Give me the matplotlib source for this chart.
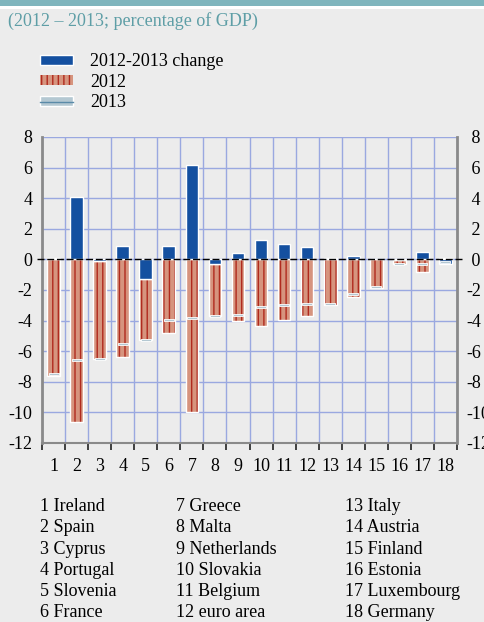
import numpy as np
import matplotlib.pyplot as plt
from matplotlib.patches import Patch, Rectangle
from matplotlib.lines import Line2D
from matplotlib.path import Path

plt.rcParams['font.family'] = ['Liberation Serif', 'DejaVu Serif']
plt.rcParams['hatch.linewidth'] = 1.0
plt.rcParams['axes.unicode_minus'] = False

countries = ['Ireland', 'Spain', 'Cyprus', 'Portugal', 'Slovenia', 'France',
             'Greece', 'Malta', 'Netherlands', 'Slovakia', 'Belgium', 'euro area',
             'Italy', 'Austria', 'Finland', 'Estonia', 'Luxembourg', 'Germany']
change = [0.1, 4.05, -0.1, 0.9, -1.3, 0.85, 6.15, -0.3, 0.4, 1.25, 1.0, 0.8,
          0.1, 0.2, 0.05, -0.05, 0.5, -0.3]
y2012 = [-7.6, -10.6, -6.4, -6.4, -4.0, -4.8, -10.0, -3.4, -4.05, -4.35, -3.95, -3.7,
         -3.0, -2.45, -1.85, -0.25, -0.8, 0.1]
y2013 = [-7.5, -6.55, -6.5, -5.5, -5.3, -3.95, -3.85, -3.7, -3.65, -3.1, -2.95, -2.9,
         -2.9, -2.25, -1.8, -0.3, -0.3, -0.2]
yticks = list(range(-12, 9, 2))

BG = '#ececec'
BLUE = '#1450a0'
RED = '#d6947e'
HATCH = '#b02a1e'
LIGHT = '#b4c8d2'
GRID = '#9aa8e0'
TEAL = '#5e9ea6'
FS = 13

x = np.arange(1, len(countries) + 1)
# negative changes stack below zero, 2012 stacks under them
base = np.minimum(np.array(change), 0)
base = np.where(np.array(y2012) < 0, base, 0)

fig = plt.figure(figsize=(4.85, 6.22), dpi=100, facecolor=BG)
fig.patches.append(Rectangle((0, 0.99), 1, 0.01, transform=fig.transFigure,
                             facecolor='#7fb5bd', edgecolor='none'))
fig.patches.append(Rectangle((0, 0.986), 1, 0.004, transform=fig.transFigure,
                             facecolor='white', edgecolor='none'))
fig.text(0.016, 0.966, '(2012 \u2013 2013; percentage of GDP)', color=TEAL,
         fontsize=FS, va='center')

ax = fig.add_axes([0.0866, 0.2878, 0.8557, 0.492])
ax.set_facecolor(BG)
w = 0.55
ax.bar(x, y2012, w, bottom=base, color=RED, edgecolor=HATCH, linewidth=0,
       hatch='|||', zorder=2)
ax.bar(x, y2012, w, bottom=base, fill=False, edgecolor='white', linewidth=1.0, zorder=2)
ax.bar(x, change, w, color=BLUE, edgecolor='white', linewidth=1.0, zorder=3)
box = Path([(-1, -0.28), (1, -0.28), (1, 0.28), (-1, 0.28), (-1, -0.28)],
           [Path.MOVETO, Path.LINETO, Path.LINETO, Path.LINETO, Path.CLOSEPOLY])
ax.plot(x, y2013, linestyle='none', marker=box, markersize=6.5,
        markerfacecolor=LIGHT, markeredgecolor='white', markeredgewidth=0.6, zorder=4)
ax.axhline(0, xmin=-0.012, xmax=1.012, color='black', linewidth=1.0,
           dashes=(5, 2), zorder=3.5, clip_on=False)

ax.set_xlim(0.5, 18.5)
ax.set_ylim(-12, 8)
ax.set_yticks(yticks)
ax.set_xticks(np.arange(0.5, 19, 1))
ax.set_xticklabels([])
ax.set_xticks(x, minor=True)
ax.set_xticklabels([str(i) for i in x], minor=True)
ax.grid(True, color=GRID, linewidth=1.0, zorder=0)
ax.set_axisbelow(True)
ax.tick_params(axis='x', which='major', direction='out', length=5, width=1.2,
               color='#222222')
ax.tick_params(axis='x', which='minor', length=0, pad=11, labelsize=FS)
ax.tick_params(axis='y', length=0, labelsize=FS, pad=7)
for s in ['left', 'right']:
    ax.spines[s].set_color('#8a8a8a')
    ax.spines[s].set_linewidth(2)
ax.spines['bottom'].set_color('#8a8a8a')
ax.spines['bottom'].set_linewidth(1.5)
ax.spines['top'].set_visible(False)

# right-hand scale, positives padded like the original
ax2 = ax.twinx()
ax2.set_ylim(ax.get_ylim())
ax2.set_yticks(yticks)
ax2.set_yticklabels([str(t) if t < 0 else ' ' + str(t) for t in yticks])
ax2.tick_params(axis='y', length=0, labelsize=FS, pad=7)
for s in ax2.spines.values():
    s.set_visible(False)

h_change = Patch(facecolor=BLUE, edgecolor='white')
h_2012 = Patch(facecolor=RED, edgecolor=HATCH, linewidth=0, hatch='|||')
h_2013 = (Patch(facecolor=LIGHT, edgecolor='white'),
          Line2D([], [], color='#5a8aa8', linewidth=1))
fig.legend([h_change, h_2012, h_2013], ['2012-2013 change', '2012', '2013'],
           loc='upper left', bbox_to_anchor=(0.082, 0.9146), frameon=False,
           fontsize=FS, handlelength=1.85, handleheight=0.45, handletextpad=0.95,
           labelspacing=0.2, borderaxespad=0, borderpad=0)

cols = [0.082, 0.362, 0.712]
for i, name in enumerate(countries):
    c, r = divmod(i, 6)
    fig.text(cols[c], 0.1855 - r * 0.0342, f'{i + 1} {name}', fontsize=FS,
             va='center')

fig.savefig('out.png', dpi=100, facecolor=BG)
